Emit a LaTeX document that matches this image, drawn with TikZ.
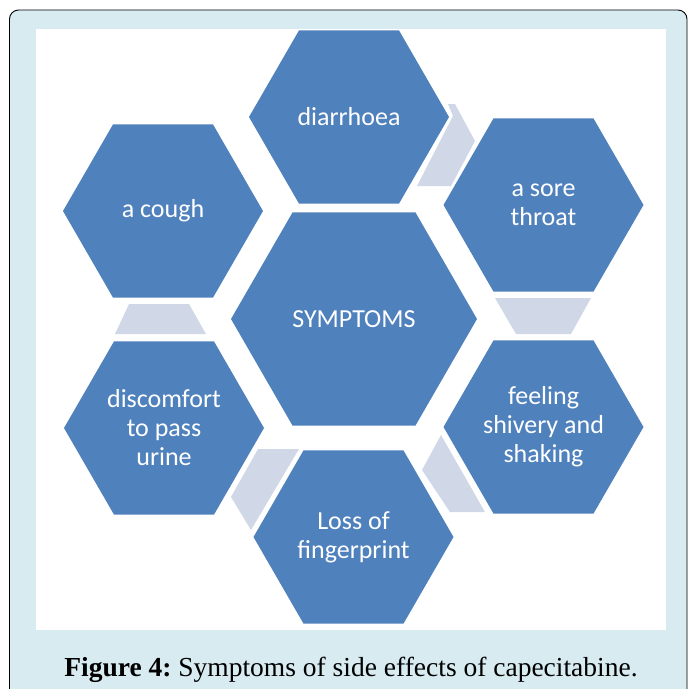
\documentclass[tikz,border=0pt]{standalone}
\usepackage{fontspec}
\setmainfont{Liberation Serif}
\newfontfamily\calib{Carlito}
\usetikzlibrary{shapes.geometric}
\definecolor{hexblue}{HTML}{4F81BD}
\definecolor{arrowgray}{HTML}{D0D8E8}
\definecolor{framebg}{HTML}{D7EBF1}
\tikzset{
  hexa/.style={regular polygon, regular polygon sides=6, fill=hexblue, draw=none,
    inner sep=0pt, text=white, align=center,
    font=\calib\fontsize{26}{29}\selectfont},
  connarrow/.style={fill=arrowgray, draw=none}
}
\begin{document}
\frenchspacing
\begin{tikzpicture}[x=1pt,y=-1pt]
\useasboundingbox (0,0) rectangle (688,689);
\clip (0,0) rectangle (688,689);
\fill[white] (0,0) rectangle (688,689);
\draw[fill=framebg, draw=black, line width=0.9pt, rounded corners=9pt] (9.5,10) rectangle (687,720);
\fill[white] (36,29) rectangle (666,630);
% hexagons
\node[hexa, minimum size=246pt] (sym) at (354,319) {SYMPTOMS};
\node[hexa, minimum size=200pt] (dia) at (349,117) {diarrhoea};
\node[hexa, minimum size=200pt] (sore) at (543.5,205) {a sore\\throat};
\node[hexa, minimum size=200pt] (feel) at (543.5,427) {feeling\\shivery and\\shaking};
\node[hexa, minimum size=200pt] (loss) at (353.5,537) {Loss of\\fingerprint};
\node[hexa, minimum size=200pt] (disc) at (164,428) {discomfort\\to pass\\urine};
\node[hexa, minimum size=200pt] (cough) at (163,211) {a cough};
% connector arrows
\fill[connarrow] (448,104) -- (455,104) -- (475,141) -- (451,186) -- (417,186) -- (453,116) -- cycle;
\fill[connarrow] (495,298) -- (591,298) -- (571,334) -- (516,334) -- cycle;
\fill[connarrow] (441,435) -- (485,512) -- (450,512) -- (422,470) -- cycle;
\fill[connarrow] (258,449) -- (299,449) -- (251,530) -- (231,497) -- cycle;
\fill[connarrow] (129,304) -- (189,304) -- (206,334) -- (115,334) -- cycle;
% caption
\node[anchor=base, font=\fontsize{27.5}{32}\selectfont, inner sep=0pt] (cap) at (351,676) {\textbf{Figure 4:} Symptoms of side effects of capecitabine.};
\end{tikzpicture}
\end{document}
